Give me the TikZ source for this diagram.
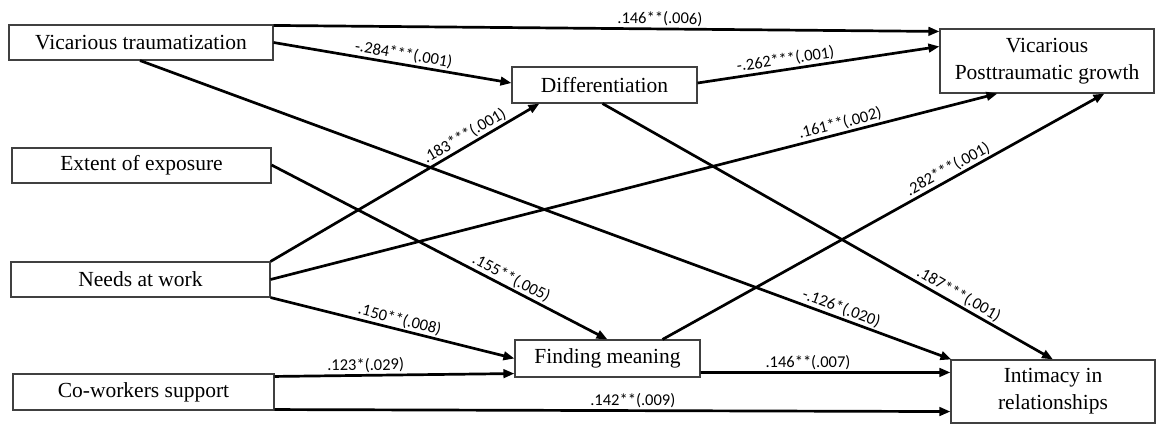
\documentclass[tikz,border=0pt]{standalone}
\usepackage{fontspec}
\setmainfont{Liberation Serif}
\newfontfamily\lblfont{Carlito}
\usetikzlibrary{arrows.meta,calc}
\begin{document}
\begin{tikzpicture}[x=1pt,y=-1pt,
 box/.style={draw=black!75,line width=1.1pt,fill=white,inner sep=0pt,align=center,font=\fontsize{21.5}{27}\selectfont},
 arr/.style={line width=2.7pt,-{Triangle[length=11pt,width=8.5pt]}},
 lbl/.style={sloped,above,inner sep=1.5pt,font=\lblfont\fontsize{16.5}{18}\selectfont}]
\fill[white] (0,0) rectangle (1156,425);
\useasboundingbox (0,0) rectangle (1156,425);
% boxes
\node[box,minimum width=264pt,minimum height=35pt] (vt) at (141,42.5) {Vicarious traumatization};
\node[box,minimum width=259pt,minimum height=35pt] (ee) at (141.5,165.5) {Extent of exposure};
\node[box,minimum width=259pt,minimum height=35pt] (nw) at (140.5,279.5) {Needs at work};
\node[box,minimum width=261pt,minimum height=36pt] (cw) at (143.5,392) {Co-workers support};
\node[box,minimum width=185pt,minimum height=36pt] (diff) at (604.5,85) {Differentiation};
\node[box,minimum width=185pt,minimum height=37pt] (fm) at (607.5,358.5) {Finding meaning};
\node[box,minimum width=214pt,minimum height=64pt] (vpg) at (1047,61) {Vicarious\\Posttraumatic growth};
\node[box,minimum width=204pt,minimum height=63pt] (int) at (1053,391.5) {Intimacy in\\relationships};
% arrows
\draw[arr] ($(vt.north east)+(0,1)$) -- ($(vpg.north west)+(0,3)$) node[lbl,pos=0.58] {.146**(.006)};
\draw[arr] (vt.east) -- ($(diff.west)+(0,-2)$) node[lbl,pos=0.54] {-.284***(.001)};
\draw[arr] ($(diff.east)+(0,-2)$) -- ($(vpg.north west)+(0,18)$) node[lbl,pos=0.37] {-.262***(.001)};
\draw[arr] ($(vt.south)+(-1,0)$) -- ($(int.north west)+(1,0)$) node[lbl,pos=0.86] {-.126*(.020)};
\draw[arr] ($(ee.east)+(0,-0.5)$) -- (fm.north) node[lbl,pos=0.70] {.155**(.005)};
\draw[arr] (nw.north east) -- ($(diff.south west)+(28,0)$) node[lbl,pos=0.74] {.183***(.001)};
\draw[arr] (nw.east) -- ($(vpg.south west)+(58,0)$) node[lbl,pos=0.787] {.161**(.002)};
\draw[arr] (nw.south east) -- (fm.west) node[lbl,pos=0.52] {.150**(.008)};
\draw[arr] ($(cw.north east)+(0,3)$) -- ($(fm.south west)+(0,-4)$) node[lbl,pos=0.38] {.123*(.029)};
\draw[arr] ($(cw.south east)+(0,-1)$) -- ($(int.south west)+(0,-12)$) node[lbl,pos=0.53] {.142**(.009)};
\draw[arr] ($(fm.north)+(55,0)$) -- ($(vpg.south west)+(165,0)$) node[lbl,pos=0.657] {.282***(.001)};
\draw[arr] ($(fm.south east)+(0,-5)$) -- ($(int.north west)+(0,13)$) node[lbl,pos=0.43] {.146**(.007)};
\draw[arr] ($(diff.south)+(-2,0)$) -- (int.north) node[lbl,pos=0.78] {.187***(.001)};
\end{tikzpicture}
\end{document}
